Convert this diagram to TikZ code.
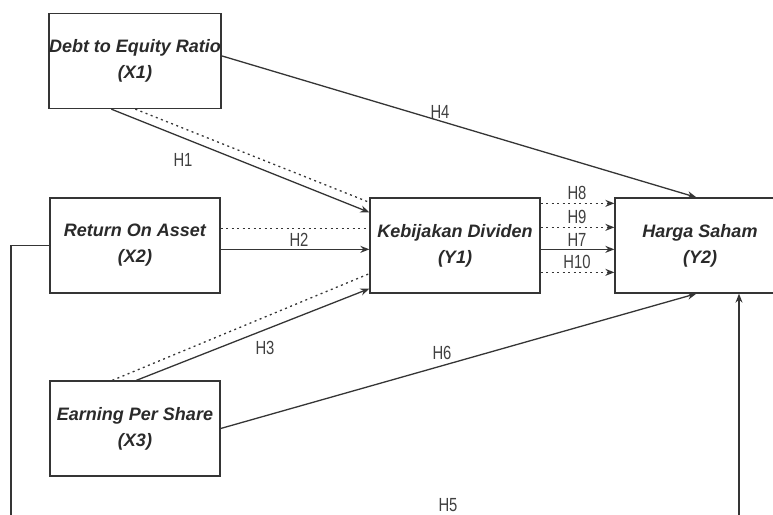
\documentclass[tikz,border=0pt]{standalone}
\usepackage{fontspec}
\setmainfont{Liberation Sans}
\newfontfamily\labfont[FakeStretch=0.78]{Liberation Sans}
\usetikzlibrary{arrows.meta,calc}
\definecolor{linec}{HTML}{353535}
\definecolor{textc}{HTML}{2A2A2A}
\definecolor{labc}{HTML}{404040}
\begin{document}
\begin{tikzpicture}[x=1pt,y=-1pt,
  var/.style={draw=linec, line width=1.3pt, fill=white, minimum width=170pt, minimum height=95pt,
    align=center, inner sep=0pt, text=textc,
    font=\fontsize{18}{26}\selectfont\bfseries\itshape},
  lab/.style={text=labc, inner sep=0pt, font=\labfont\fontsize{19}{20}\selectfont},
  conn/.style={draw=linec, line width=1.3pt},
  arr/.style={conn, -{Stealth[length=9pt,width=7pt]}},
  dot/.style={conn, dash pattern=on 2pt off 3.5pt},
  dotarr/.style={dot, -{Stealth[length=9pt,width=7pt]}}]
\useasboundingbox (0,0) rectangle (773,514);
\clip (0,0) rectangle (773,514);

\node[var] (X1) at (135,61) {Debt to Equity Ratio\\(X1)};
\node[var] (X2) at (135,245.5) {Return On Asset\\(X2)};
\node[var] (X3) at (135,428.5) {Earning Per Share\\(X3)};
\node[var] (Y1) at (455,245.5) {Kebijakan Dividen\\(Y1)};
\node[var] (Y2) at (700,245.5) {Harga Saham\\(Y2)};

% H1
\draw[dot] ($(X1.south west)+(87,0)$) -- ($(Y1.north west)+(0,5)$);
\draw[arr] ($(X1.south west)+(63,0)$) -- ($(Y1.north west)+(0,15)$);
% H2
\draw[dot] ($(X2.north east)+(0,31)$) -- ($(Y1.north west)+(0,31)$);
\draw[arr] ($(X2.north east)+(0,52)$) -- ($(Y1.north west)+(0,52)$);
% H3
\draw[dot] ($(X3.north west)+(63,0)$) -- ($(Y1.south west)+(0,-20)$);
\draw[arr] ($(X3.north west)+(87,0)$) -- ($(Y1.south west)+(0,-5)$);
% H4
\draw[arr] ($(X1.north east)+(0,43)$) -- ($(Y2.north west)+(82,0)$);
% H6
\draw[arr] (X3.east) -- ($(Y2.south west)+(82,0)$);
% H7-H10
\draw[dotarr] ($(Y1.north east)+(0,6)$) -- ($(Y2.north west)+(0,6)$);
\draw[dotarr] ($(Y1.north east)+(0,30)$) -- ($(Y2.north west)+(0,30)$);
\draw[arr] ($(Y1.north east)+(0,52)$) -- ($(Y2.north west)+(0,52)$);
\draw[dotarr] ($(Y1.north east)+(0,75)$) -- ($(Y2.north west)+(0,75)$);
% H5
\coordinate (h5a) at (11,530);
\coordinate (h5b) at (739,530);
\draw[arr] (X2.west) -| (h5a) -- (h5b) -- (h5b |- Y2.south);

% labels
\node[lab] (l1) at (183,160) {H1};
\node[lab] (l2) at (299,240) {H2};
\node[lab] (l3) at (265,348) {H3};
\node[lab] (l4) at (440,112) {H4};
\node[lab] (l5) at (448,505) {H5};
\node[lab] (l6) at (442,353) {H6};
\node[lab] (l8) at (577,193) {H8};
\node[lab] (l9) at (577,217) {H9};
\node[lab] (l7) at (577,240) {H7};
\node[lab] (l10) at (577,262) {H10};
\end{tikzpicture}
\end{document}
